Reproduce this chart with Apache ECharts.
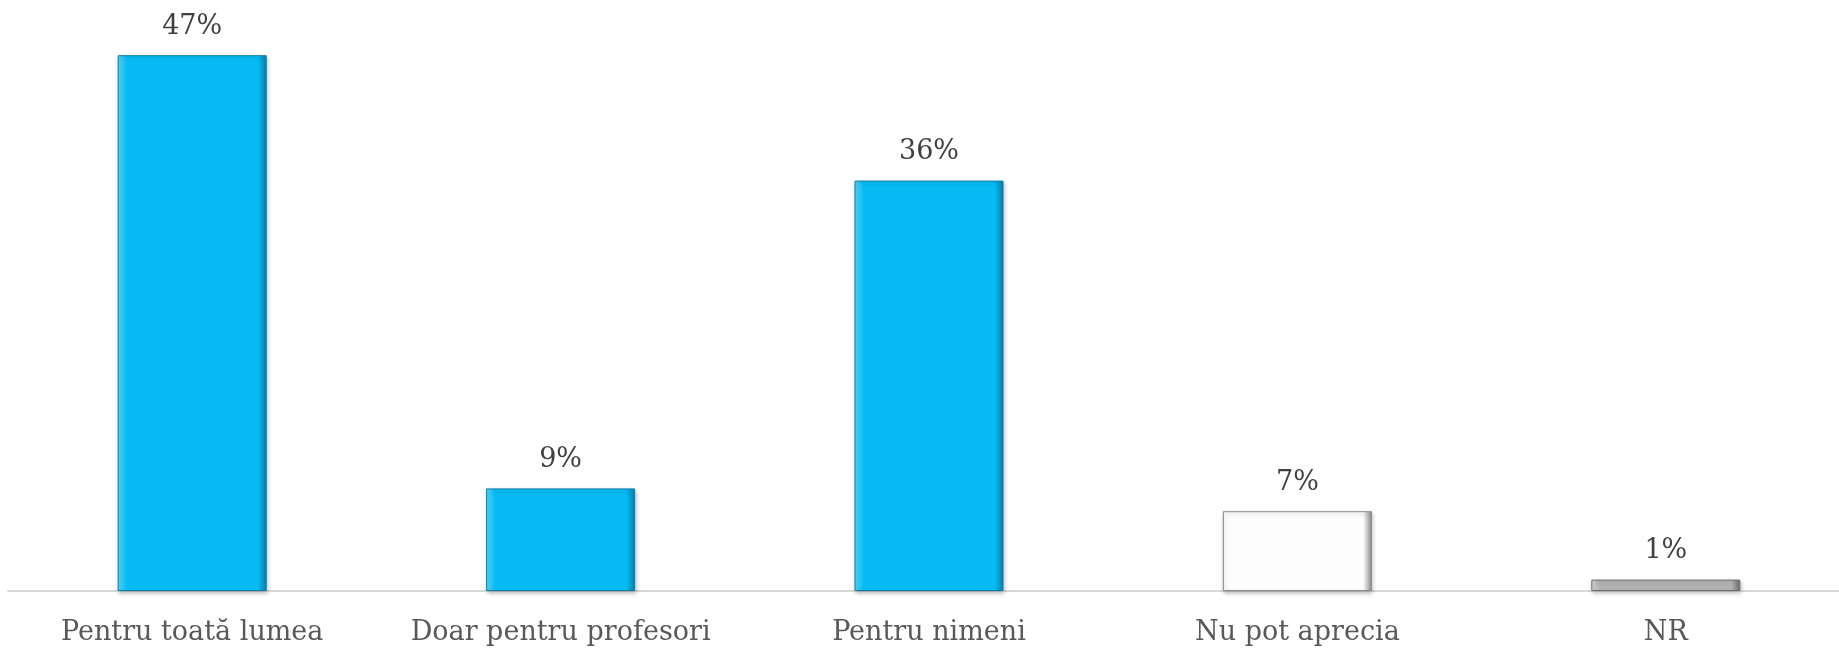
<!DOCTYPE html>
<html>
<head>
<meta charset="utf-8">
<script src="https://cdn.jsdelivr.net/npm/echarts@6/dist/echarts.min.js"></script>
<style>
  html, body { margin: 0; padding: 0; background: #fff; overflow: hidden; }
  #chart { width: 1850px; height: 650px; }
</style>
</head>
<body>
<div id="chart"></div>
<script>
const categories = ['Pentru toată lumea', 'Doar pentru profesori', 'Pentru nimeni', 'Nu pot aprecia', 'NR']
const values = [47, 9, 36, 7, 1]

// fill styles per bar: [light edge, base, dark edge]
const palette = [
  ['#5fd6fa', '#07bcf5', '#0a7fa8'],
  ['#5fd6fa', '#07bcf5', '#0a7fa8'],
  ['#5fd6fa', '#07bcf5', '#0a7fa8'],
  ['#ffffff', '#fdfdfd', '#8c8c8c'],
  ['#d6d6d6', '#b3b3b3', '#6e6e6e']
]

const bevel = (c) => new echarts.graphic.LinearGradient(0, 0, 1, 0, [
  { offset: 0, color: c[0] },
  { offset: 0.06, color: c[1] },
  { offset: 0.94, color: c[1] },
  { offset: 1, color: c[2] }
])

const chart = echarts.init(document.getElementById('chart'))

const option = {
  animation: false,
  grid: { left: 8, right: 0, top: 21, bottom: 59 },
  xAxis: {
    type: 'category',
    data: categories,
    axisLine: { lineStyle: { color: '#d9d9d9', width: 2 } },
    axisTick: { show: false },
    axisLabel: {
      color: '#595959',
      fontFamily: 'DejaVu Serif',
      fontSize: 27,
      margin: 28,
      interval: 0
    }
  },
  yAxis: {
    type: 'value',
    min: 0,
    max: 50,
    show: false,
    splitLine: { show: false }
  },
  series: [{
    type: 'bar',
    barWidth: 149,
    data: values.map((v, i) => ({
      value: v,
      itemStyle: {
        color: bevel(palette[i]),
        borderColor: palette[i][2],
        borderWidth: 1,
        shadowColor: 'rgba(0,0,0,0.25)',
        shadowBlur: 4,
        shadowOffsetX: 1,
        shadowOffsetY: 2
      }
    })),
    label: {
      show: true,
      position: 'top',
      distance: 15,
      formatter: '{c}%',
      color: '#404040',
      fontFamily: 'DejaVu Serif',
      fontSize: 27
    }
  }]
}

chart.setOption(option)
</script>
</body>
</html>
